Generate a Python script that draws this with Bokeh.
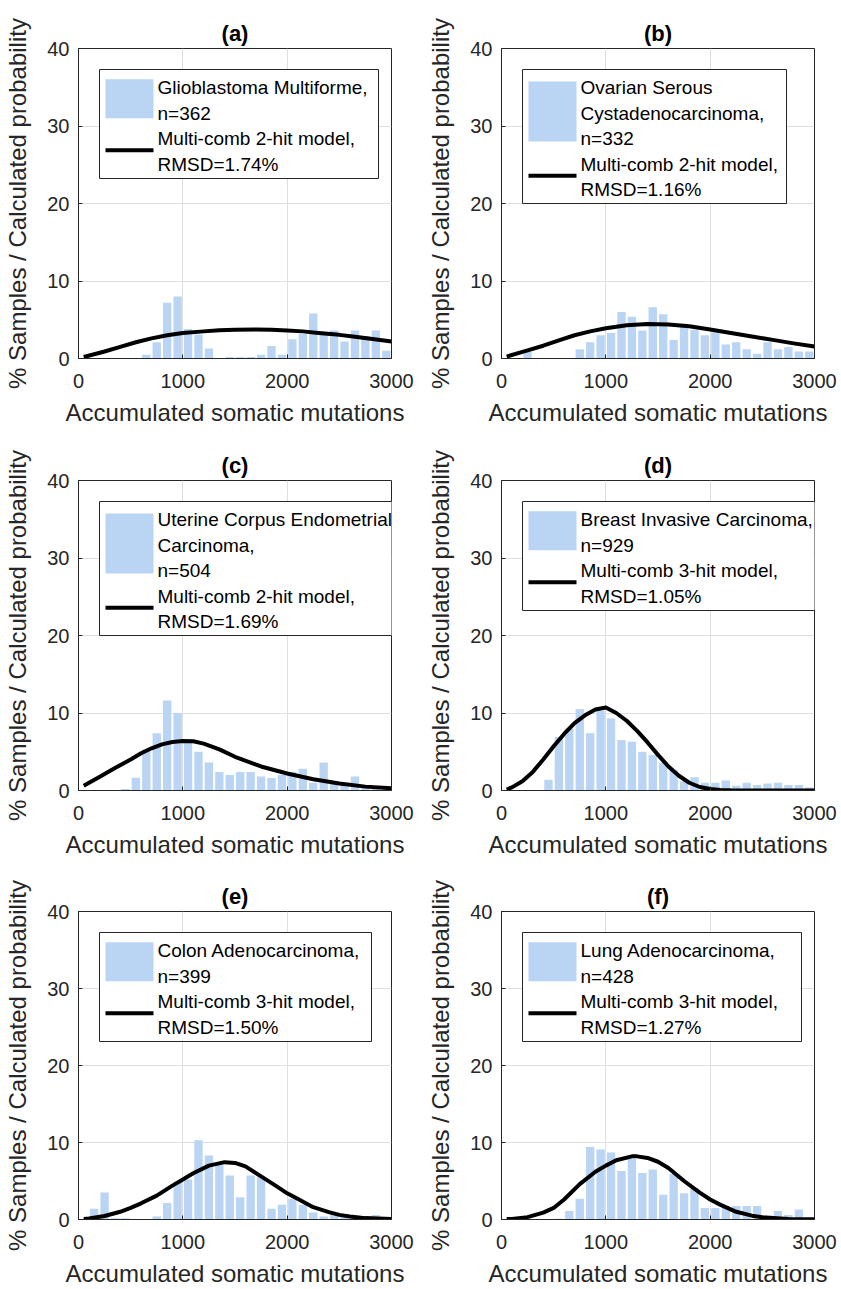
from bokeh.plotting import figure
from bokeh.layouts import gridplot
from bokeh.models import Range1d, BoxAnnotation, Label
from bokeh.embed import file_html
from bokeh.resources import INLINE

# ---------------- data ----------------
bin_centers = [50, 150, 250, 350, 450, 550, 650, 750, 850, 950,
               1050, 1150, 1250, 1350, 1450, 1550, 1650, 1750, 1850, 1950,
               2050, 2150, 2250, 2350, 2450, 2550, 2650, 2750, 2850, 2950]
x_ticks = [0, 1000, 2000, 3000]
y_ticks = [0, 10, 20, 30, 40]

hist_a = [0, 0, 0, 0, 0, 0, 0.5, 2.1, 7.2, 8.0, 3.8, 3.1, 1.3, 0, 0.2,
          0.2, 0.2, 0.5, 1.6, 0.5, 2.5, 3.2, 5.8, 3.3, 3.6, 2.2, 3.6, 2.9, 3.6, 1.0]
hist_b = [0, 0, 0.9, 0, 0, 0, 0, 1.2, 2.1, 3.0, 3.3, 6.0, 5.4, 3.6, 6.6,
          5.7, 2.4, 4.5, 3.7, 3.0, 3.4, 1.8, 2.1, 1.2, 0.6, 2.1, 1.2, 1.5, 0.9, 0.9]
hist_c = [0, 0, 0, 0, 0.2, 1.65, 5.3, 7.4, 11.6, 10.0, 6.4, 5.0, 3.6, 2.4, 2.0,
          2.4, 2.4, 1.8, 1.6, 2.0, 2.4, 2.8, 1.0, 3.6, 1.2, 0.7, 1.8, 0.5, 0.4, 0.3]
hist_d = [0, 0, 0, 0, 1.4, 6.9, 8.0, 10.5, 7.4, 10.3, 9.3, 6.5, 6.3, 5.0, 4.6,
          3.6, 2.6, 1.2, 1.7, 1.0, 1.0, 1.3, 0.6, 1.0, 0.7, 0.9, 1.0, 0.7, 0.7, 0.4]
hist_e = [0, 1.4, 3.5, 0.15, 0.15, 0, 0, 0.4, 2.15, 4.9, 5.2, 10.3, 8.3, 7.2, 5.7,
          2.9, 5.7, 5.5, 1.4, 1.9, 2.7, 1.9, 0.9, 0.4, 0.9, 0.5, 0.5, 0.4, 0.6, 0.2]
hist_f = [0, 0, 0, 0, 0, 0.1, 1.1, 2.7, 9.4, 9.1, 8.7, 6.3, 7.9, 6.05, 6.5,
          3.2, 5.9, 3.4, 4.1, 1.5, 1.5, 1.75, 1.75, 1.75, 1.75, 0.2, 1.1, 0.6, 1.3, 0.2]

curve_a_x = [50, 250, 400, 550, 700, 850, 1000, 1200, 1350, 1500, 1700, 1850,
             2000, 2150, 2300, 2500, 2650, 2800, 3000]
curve_a_y = [0.2, 0.9, 1.5, 2.1, 2.6, 3.0, 3.3, 3.5, 3.65, 3.72, 3.75, 3.7,
             3.6, 3.5, 3.3, 3.05, 2.8, 2.55, 2.2]
curve_b_x = [50, 250, 400, 550, 700, 850, 1000, 1200, 1400, 1600, 1800, 2000,
             2200, 2400, 2600, 2800, 3000]
curve_b_y = [0.25, 1.05, 1.65, 2.35, 3.0, 3.5, 3.9, 4.3, 4.45, 4.4, 4.15, 3.75,
             3.3, 2.85, 2.4, 1.95, 1.55]
curve_c_x = [50, 200, 350, 500, 600, 700, 800, 900, 1000, 1100, 1200, 1350,
             1500, 1750, 2000, 2250, 2500, 2750, 3000]
curve_c_y = [0.6, 1.75, 2.9, 4.0, 4.8, 5.45, 5.95, 6.25, 6.4, 6.35, 6.05, 5.3,
             4.35, 3.1, 2.2, 1.45, 0.9, 0.5, 0.3]
curve_d_x = [50, 100, 200, 300, 400, 500, 600, 700, 800, 900, 1000, 1100, 1200,
             1300, 1400, 1500, 1600, 1700, 1800, 1900, 2000, 2100, 2200, 2500, 3000]
curve_d_y = [0.13, 0.4, 1.2, 2.4, 4.0, 5.7, 7.3, 8.7, 9.7, 10.45, 10.7, 10.0, 9.0,
             7.7, 6.2, 4.6, 3.1, 1.9, 1.0, 0.45, 0.2, 0.08, 0.03, 0.0, 0.0]
curve_e_x = [50, 100, 250, 400, 500, 600, 750, 900, 1000, 1100, 1250, 1400,
             1500, 1600, 1750, 1900, 2000, 2100, 2250, 2400, 2500, 2600, 2750, 3000]
curve_e_y = [0.08, 0.12, 0.45, 1.0, 1.5, 2.1, 3.1, 4.4, 5.2, 6.0, 7.0, 7.45,
             7.35, 6.9, 5.6, 4.3, 3.4, 2.7, 1.6, 0.95, 0.6, 0.4, 0.18, 0.05]
curve_f_x = [50, 100, 250, 400, 500, 600, 750, 900, 1000, 1100, 1250, 1300,
             1400, 1500, 1600, 1750, 1900, 2000, 2100, 2250, 2400, 2500, 2750, 3000]
curve_f_y = [0.05, 0.08, 0.3, 0.9, 1.5, 2.6, 4.6, 6.2, 7.0, 7.7, 8.2, 8.2,
             8.0, 7.5, 6.7, 5.0, 3.5, 2.6, 1.9, 1.0, 0.5, 0.3, 0.08, 0.02]

titles = ["(a)", "(b)", "(c)", "(d)", "(e)", "(f)"]
legend_data = [
    ["Glioblastoma Multiforme,", "n=362"],
    ["Ovarian Serous", "Cystadenocarcinoma,", "n=332"],
    ["Uterine Corpus Endometrial", "Carcinoma,", "n=504"],
    ["Breast Invasive Carcinoma,", "n=929"],
    ["Colon Adenocarcinoma,", "n=399"],
    ["Lung Adenocarcinoma,", "n=428"],
]
legend_model = [
    ["Multi-comb 2-hit model,", "RMSD=1.74%"],
    ["Multi-comb 2-hit model,", "RMSD=1.16%"],
    ["Multi-comb 2-hit model,", "RMSD=1.69%"],
    ["Multi-comb 3-hit model,", "RMSD=1.05%"],
    ["Multi-comb 3-hit model,", "RMSD=1.50%"],
    ["Multi-comb 3-hit model,", "RMSD=1.27%"],
]
x_label = "Accumulated somatic mutations"
y_label = "% Samples / Calculated probability"

# ---------------- style ----------------
FONT = "Liberation Sans"
BAR = "#bad4f4"
AXC = "#262626"
GRID = "#dfdfdf"
legend_widths = [279, 264, 304, 300, 272, 279]


def make_panel(idx, hist, cx, cy, width, left, right, height, fh):
    top = 48
    bottom = height - top - fh
    fw = width - left - right
    p = figure(width=width, height=height,
               x_range=Range1d(0, 3000), y_range=Range1d(0, 40),
               output_backend="svg", toolbar_location=None,
               min_border_left=left, min_border_right=right,
               min_border_top=top, min_border_bottom=bottom,
               title=titles[idx])
    p.background_fill_color = "white"
    p.border_fill_color = "white"
    p.outline_line_color = AXC
    p.outline_line_width = 1
    p.outline_line_alpha = 1

    p.title.align = "center"
    p.title.text_font = FONT
    p.title.text_font_size = "22px"
    p.title.text_font_style = "bold"
    p.title.text_color = "black"
    p.title.standoff = 5

    p.xaxis.ticker = x_ticks
    p.yaxis.ticker = y_ticks
    for ax in (p.xaxis[0], p.yaxis[0]):
        ax.major_label_text_font = FONT
        ax.major_label_text_font_size = "20px"
        ax.major_label_text_color = AXC
        ax.axis_label_text_font = FONT
        ax.axis_label_text_font_size = "24px"
        ax.axis_label_text_font_style = "normal"
        ax.axis_label_text_color = AXC
        ax.axis_line_color = AXC
        ax.major_tick_line_color = AXC
        ax.major_tick_in = 4
        ax.major_tick_out = 0
        ax.minor_tick_line_color = None
    p.xaxis.axis_label = x_label
    p.yaxis.axis_label = y_label
    p.xaxis.major_label_standoff = 15
    p.xaxis.axis_label_standoff = 8
    p.yaxis.major_label_standoff = 9
    p.yaxis.axis_label_standoff = 13
    p.xgrid.grid_line_color = GRID
    p.ygrid.grid_line_color = GRID

    p.vbar(x=bin_centers, top=hist, width=80, fill_color=BAR, line_color=None)
    p.line(cx, cy, line_color="black", line_width=4, line_join="round")

    def X(px):
        return px * 3000.0 / fw

    def Y(px):
        return 40.0 - px * 40.0 / fh

    # ----- legend (MATLAB-style, two-line entries) -----
    first = legend_data[idx]
    second = legend_model[idx]
    lines = first + second
    n = len(lines)
    step = 25.5
    centers = [39 + i * step for i in range(n)]
    box_h = 109 + 25 * (n - 4)
    lw = legend_widths[idx]
    p.add_layout(BoxAnnotation(left=X(21), right=X(21 + lw), top=Y(21), bottom=Y(21 + box_h),
                               fill_color="white", fill_alpha=1.0, line_color=AXC,
                               line_alpha=1.0, line_width=1, line_dash="solid"))
    k = len(first)
    sw_c = sum(centers[:k]) / k - 1.5
    sw_h = 21 * k - 3
    p.add_layout(BoxAnnotation(left=X(27), right=X(75), top=Y(sw_c - sw_h / 2),
                               bottom=Y(sw_c + sw_h / 2), fill_color=BAR, fill_alpha=1.0,
                               line_color=None))
    ln_c = sum(centers[k:]) / len(second) - 1
    p.add_layout(BoxAnnotation(left=X(27), right=X(75), top=Y(ln_c - 2), bottom=Y(ln_c + 2),
                               fill_color="black", fill_alpha=1.0, line_color=None))
    for t, c in zip(lines, centers):
        p.add_layout(Label(x=X(79), y=Y(c), text=t, text_font=FONT, text_font_size="19px",
                           text_baseline="middle", text_align="left", text_color="black"))
    return p


hists = [hist_a, hist_b, hist_c, hist_d, hist_e, hist_f]
cxs = [curve_a_x, curve_b_x, curve_c_x, curve_d_x, curve_e_x, curve_f_x]
cys = [curve_a_y, curve_b_y, curve_c_y, curve_d_y, curve_e_y, curve_f_y]
row_heights = [432, 431, 426]
frame_heights = [310, 310, 308]

rows = []
for r in range(3):
    i = 2 * r
    pl = make_panel(i, hists[i], cxs[i], cys[i], 421, 78, 30, row_heights[r], frame_heights[r])
    pr = make_panel(i + 1, hists[i + 1], cxs[i + 1], cys[i + 1], 420, 80, 27,
                    row_heights[r], frame_heights[r])
    rows.append([pl, pr])

grid = gridplot(rows, toolbar_location=None)
open("out.html", "w").write(file_html(grid, INLINE))
